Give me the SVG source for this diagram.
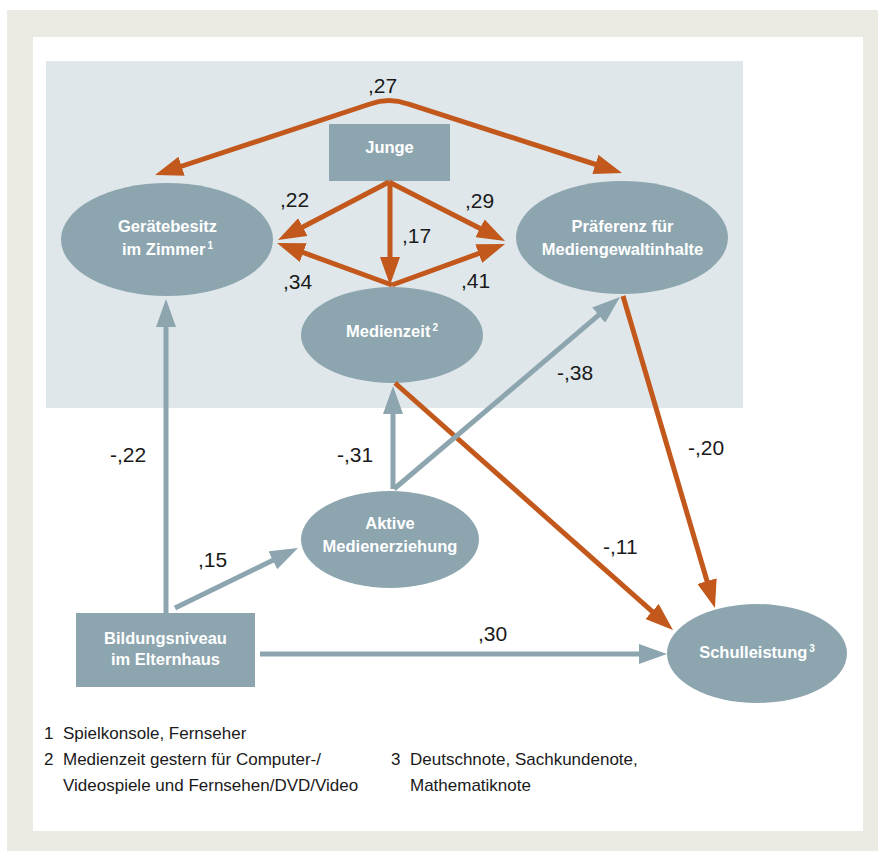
<svg xmlns="http://www.w3.org/2000/svg" width="878" height="851" viewBox="0 0 878 851">
<style>
.node{fill:#8ca5af}
.nt{font-family:"Liberation Sans",Arial,sans-serif;font-weight:bold;font-size:16.5px;fill:#ffffff;text-anchor:middle}
.sup{font-size:10px}
.lbl{font-family:"Liberation Sans",Arial,sans-serif;font-size:21px;fill:#1a1a1a}
.fn{font-family:"Liberation Sans",Arial,sans-serif;font-size:17px;fill:#1a1a1a}
.or{fill:none;stroke:#c2581b;stroke-width:5;marker-end:url(#ao)}
.bl{fill:none;stroke:#8ca5af;stroke-width:5;marker-end:url(#ab)}
</style>
<defs>
<marker id="ao" markerUnits="userSpaceOnUse" markerWidth="28" markerHeight="20" refX="20" refY="10" orient="auto-start-reverse" viewBox="0 0 28 20"><path d="M0,0 L28,10 L0,20 z" fill="#c2581b"/></marker>
<marker id="ab" markerUnits="userSpaceOnUse" markerWidth="28" markerHeight="20" refX="20" refY="10" orient="auto-start-reverse" viewBox="0 0 28 20"><path d="M0,0 L28,10 L0,20 z" fill="#8ca5af"/></marker>
</defs>
<rect x="7" y="10" width="871" height="841" fill="#ebeae3"/>
<rect x="33" y="37" width="830" height="794" fill="#ffffff"/>
<rect x="46" y="61" width="697" height="347" fill="#dfe7ea"/>

<g id="nodes">
<g id="junge"><rect class="node" x="329" y="124" width="121" height="57"/><text class="nt" x="389.5" y="153">Junge</text></g>
<g id="geraetebesitz"><ellipse class="node" cx="167" cy="239.5" rx="106" ry="56.5"/><text class="nt" x="167.5" y="232">Gerätebesitz</text><text class="nt" x="167.5" y="255">im Zimmer<tspan class="sup" dx="2" dy="-6">1</tspan></text></g>
<g id="praeferenz"><ellipse class="node" cx="622" cy="237.5" rx="106" ry="56.5"/><text class="nt" x="622.5" y="232">Präferenz für</text><text class="nt" x="622.5" y="255">Mediengewaltinhalte</text></g>
<g id="medienzeit"><ellipse class="node" cx="392" cy="335" rx="91" ry="48"/><text class="nt" x="392" y="337">Medienzeit<tspan class="sup" dx="2" dy="-6">2</tspan></text></g>
<g id="aktive"><ellipse class="node" cx="390" cy="539.5" rx="89" ry="48.5"/><text class="nt" x="390" y="529">Aktive</text><text class="nt" x="390" y="552">Medienerziehung</text></g>
<g id="bildung"><rect class="node" x="76" y="613" width="179" height="74"/><text class="nt" x="165.5" y="644">Bildungsniveau</text><text class="nt" x="165.5" y="665">im Elternhaus</text></g>
<g id="schulleistung"><ellipse class="node" cx="757" cy="653.5" rx="90" ry="49.5"/><text class="nt" x="757" y="658">Schulleistung<tspan class="sup" dx="2" dy="-6">3</tspan></text></g>
</g>

<g id="connectors">
<path class="or" style="marker-start:url(#ao)" d="M162.6,172.5 L370,104 Q389,97 408,104 L614.4,170.5"/>
<path class="or" d="M389,182 L285.1,236.3"/>
<path class="or" d="M392,285 L284.5,245.7"/>
<path class="or" d="M390,182 L390,277"/>
<path class="or" d="M389,182 L497.9,237.4"/>
<path class="or" d="M392,285 L497.5,246.7"/>
<path class="or" d="M623,296 L712.7,600.3"/>
<path class="or" d="M395,383 L667,624.7"/>
<path class="bl" d="M166,613 L166,307"/>
<path class="bl" d="M175,608 L290.8,551.5"/>
<path class="bl" d="M393,489 L393,394"/>
<path class="bl" d="M394,489 L613.9,302.2"/>
<path class="bl" d="M260,654 L659,654"/>
</g>

<g id="labels">
<text class="lbl" x="368" y="93">,27</text>
<text class="lbl" x="280" y="207">,22</text>
<text class="lbl" x="402" y="243">,17</text>
<text class="lbl" x="283" y="289">,34</text>
<text class="lbl" x="465" y="208">,29</text>
<text class="lbl" x="461" y="288">,41</text>
<text class="lbl" x="557" y="380">-,38</text>
<text class="lbl" x="110" y="462">-,22</text>
<text class="lbl" x="337" y="462">-,31</text>
<text class="lbl" x="198" y="567">,15</text>
<text class="lbl" x="478" y="641">,30</text>
<text class="lbl" x="603" y="554">-,11</text>
<text class="lbl" x="688" y="455">-,20</text>
</g>

<g id="footnotes">
<text class="fn" x="44" y="739">1</text><text class="fn" x="63" y="739">Spielkonsole, Fernseher</text>
<text class="fn" x="44" y="765">2</text><text class="fn" x="63" y="765">Medienzeit gestern für Computer-/</text>
<text class="fn" x="63" y="791">Videospiele und Fernsehen/DVD/Video</text>
<text class="fn" x="391" y="765">3</text><text class="fn" x="410" y="765">Deutschnote, Sachkundenote,</text>
<text class="fn" x="410" y="791">Mathematiknote</text>
</g>
</svg>
